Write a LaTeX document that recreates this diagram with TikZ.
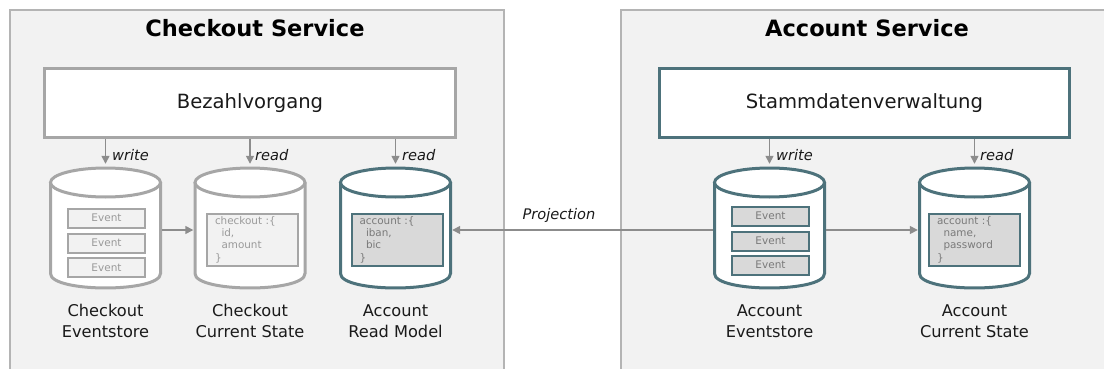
\documentclass[tikz,border=0pt]{standalone}
\usepackage{fontspec}
\setmainfont{DejaVu Sans}
\usetikzlibrary{arrows.meta}
\definecolor{panelfill}{HTML}{F2F2F2}
\definecolor{panelline}{HTML}{B4B4B4}
\definecolor{grayline}{HTML}{A6A6A6}
\definecolor{tealline}{HTML}{4D727B}
\definecolor{arrowc}{HTML}{8C8C8C}
\definecolor{lightfill}{HTML}{F2F2F2}
\definecolor{darkfill}{HTML}{D9D9D9}
\definecolor{lighttext}{HTML}{9A9A9A}
\definecolor{darktext}{HTML}{7A7A7A}
\definecolor{maintext}{HTML}{1A1A1A}
\tikzset{
  panel/.style={draw=panelline, fill=panelfill, line width=2, anchor=north west, inner sep=0},
  titletext/.style={font=\fontsize{22.5}{27}\selectfont\bfseries, text=black, inner sep=0},
  procbox/.style={fill=white, line width=3, minimum height=69, inner sep=0, font=\fontsize{19.6}{23}\selectfont, text=maintext},
  flow/.style={draw=arrowc, line width=1.5, -{Triangle[length=8pt,width=8pt]}},
  flowlabel/.style={font=\fontsize{14.6}{17}\selectfont\itshape, text=maintext, inner sep=0},
  dblabel/.style={font=\fontsize{16.2}{21.5}\selectfont, text=maintext, align=center, inner sep=0},
  evbox/.style={line width=2, minimum width=77, minimum height=19, inner sep=0, font=\fontsize{10.5}{12}\selectfont},
  evlight/.style={evbox, draw=grayline, fill=lightfill, text=lighttext},
  evdark/.style={evbox, draw=tealline, fill=darkfill, text=darktext},
  codebox/.style={line width=2, minimum height=52, text width=75, inner xsep=8, inner ysep=3, align=left, font=\fontsize{10.4}{11.8}\selectfont},
  codelight/.style={codebox, draw=grayline, fill=lightfill, text=lighttext},
  codedark/.style={codebox, draw=tealline, fill=darkfill, text=darktext},
  dbanchor/.style={inner sep=0, minimum width=113, minimum height=132}
}
\newcommand\dbcyl[3]{%
  \fill[white] (#2-55,182.5) -- (#2-55,273.5) .. controls (#2-55,292.8) and (#2+55,292.8) .. (#2+55,273.5) -- (#2+55,182.5) -- cycle;
  \draw[#3, line width=3] (#2-55,182.5) -- (#2-55,273.5) .. controls (#2-55,292.8) and (#2+55,292.8) .. (#2+55,273.5) -- (#2+55,182.5);
  \draw[#3, line width=3, fill=white] (#2,182.5) ellipse [x radius=55, y radius=14.5];
  \node[dbanchor] (#1) at (#2,230) {};
}
\begin{document}
\begin{tikzpicture}[x=1pt,y=-1pt]
\useasboundingbox (0,0) rectangle (1104,369);
\clip (0,0) rectangle (1104,369);
% panels
\node[panel, minimum width=494, minimum height=380] (lpanel) at (9,9) {};
\node[panel, minimum width=500, minimum height=380] (rpanel) at (619.5,9) {};
\node[titletext] (ltitle) at (255,28) {Checkout Service};
\node[titletext] (rtitle) at (867,28) {Account Service};
% process boxes
\node[procbox, draw=grayline, minimum width=411] (bez) at (250,103) {Bezahlvorgang};
\node[procbox, draw=tealline, minimum width=410] (stamm) at (864.5,103) {Stammdatenverwaltung};
% databases
\dbcyl{ce}{105.5}{grayline}
\dbcyl{ccs}{250}{grayline}
\dbcyl{arm}{395.5}{tealline}
\dbcyl{ae}{769.5}{tealline}
\dbcyl{acs}{974.5}{tealline}
% events
\node[evlight] (ce1) at (106.5,218) {Event};
\node[evlight] (ce2) at (106.5,243) {Event};
\node[evlight] (ce3) at (106.5,267.5) {Event};
\node[evdark] (ae1) at (770.5,216) {Event};
\node[evdark] (ae2) at (770.5,241) {Event};
\node[evdark] (ae3) at (770.5,265) {Event};
% code boxes
\node[codelight] (ccsdata) at (252.5,240) {checkout :\{\\\hspace*{6.5pt}id,\\\hspace*{6.5pt}amount\\[1.5pt]\}};
\node[codedark] (armdata) at (397,240) {account :\{\\\hspace*{6.5pt}iban,\\\hspace*{6.5pt}bic\\[1.5pt]\}};
\node[codedark] (acsdata) at (974.5,240) {account :\{\\\hspace*{6.5pt}name,\\\hspace*{6.5pt}password\\[1.5pt]\}};
% arrows from process boxes
\draw[flow] (bez.south -| ce.north) -- (ce.north);
\draw[flow] (bez.south -| ccs.north) -- (ccs.north);
\draw[flow] (bez.south -| arm.north) -- (arm.north);
\draw[flow] (stamm.south -| ae.north) -- (ae.north);
\draw[flow] (stamm.south -| acs.north) -- (acs.north);
\node[flowlabel, anchor=west] (w1) at (112,155) {write};
\node[flowlabel, anchor=west] (r1) at (255,155) {read};
\node[flowlabel, anchor=west] (r2) at (402,155) {read};
\node[flowlabel, anchor=west] (w2) at (776,155) {write};
\node[flowlabel, anchor=west] (r3) at (980,155) {read};
% horizontal flows
\draw[flow] (ce.east) -- (ccs.west);
\draw[flow] (ae.east) -- (acs.west);
\draw[flow] (ae.west) -- (arm.east);
\node[flowlabel] (proj) at (559,215) {Projection};
% labels
\node[dblabel] (lce) at (105.5,321) {Checkout\\Eventstore};
\node[dblabel] (lccs) at (250,321) {Checkout\\Current State};
\node[dblabel] (larm) at (395.5,321) {Account\\Read Model};
\node[dblabel] (lae) at (769.5,321) {Account\\Eventstore};
\node[dblabel] (lacs) at (974.5,321) {Account\\Current State};
\end{tikzpicture}
\end{document}
